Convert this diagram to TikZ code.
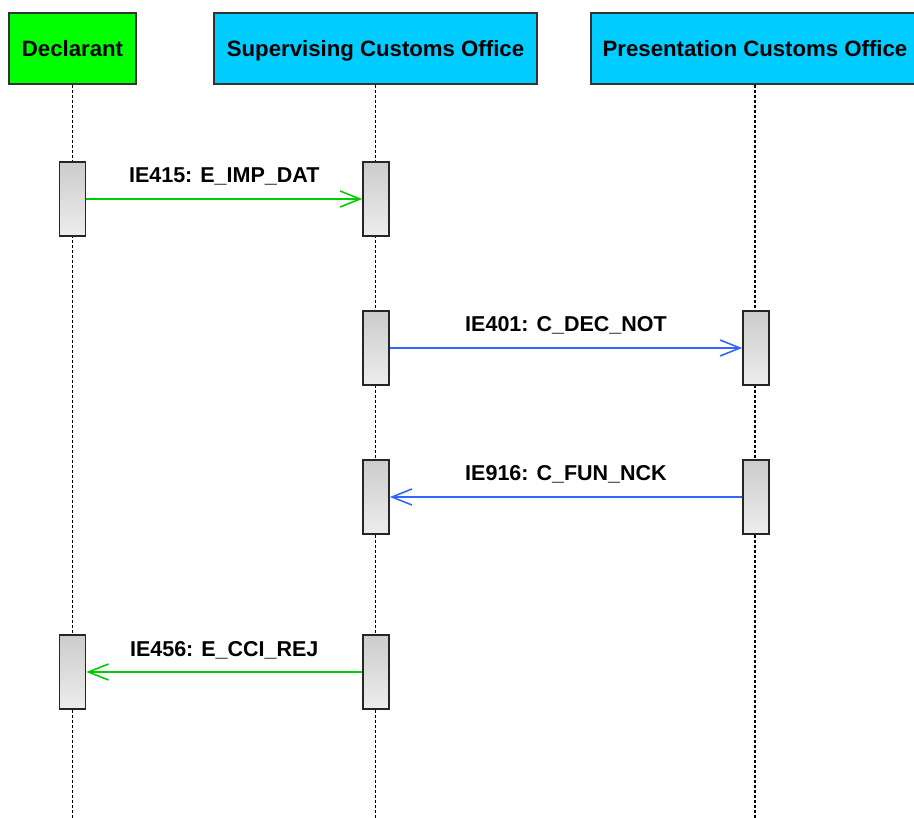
\documentclass[tikz,border=0pt]{standalone}
\usepackage{fontspec}
\setmainfont{Liberation Sans}
\usetikzlibrary{arrows.meta}
\definecolor{declgreen}{RGB}{0,255,0}
\definecolor{officecyan}{RGB}{0,204,255}
\definecolor{msggreen}{RGB}{0,204,0}
\definecolor{msgblue}{RGB}{51,102,255}
\begin{document}
\begin{tikzpicture}[x=1pt,y=-1pt,
    head/.style={draw=black!80,line width=1.6pt,minimum height=71pt,text depth=0pt,font=\fontsize{22.2}{26}\selectfont\bfseries},
    act/.style={draw=black!85,line width=1.6pt,top color=black!20,bottom color=black!7,minimum width=26pt,minimum height=74pt,inner sep=0pt},
    life/.style={draw,dash pattern=on 3pt off 2pt,line width=1.2pt},
    msg/.style={line width=1.6pt,-{Straight Barb[length=20pt,width=16pt]}},
    lbl/.style={anchor=base,yshift=16pt,text=black,font=\fontsize{21.5}{26}\selectfont\bfseries}]
      \useasboundingbox (0,0) rectangle (914,818);
      \def \Heads{
        decl/72.5/127/declgreen/Declarant,
        sup/375.5/323/officecyan/Supervising Customs Office,
        pres/755/328/officecyan/Presentation Customs Office}
      \def \Acts{
        a1/72.5/199,
        b1/376/199,
        b2/376/348,
        c2/756/348,
        b3/376/497,
        c3/756/497,
        a4/72.5/672,
        b4/376/672}
      \def \Msgs{
        a1/b1/msggreen/IE415: E\_IMP\_DAT,
        b2/c2/msgblue/IE401: C\_DEC\_NOT,
        c3/b3/msgblue/IE916: C\_FUN\_NCK,
        b4/a4/msggreen/IE456: E\_CCI\_REJ}
      \foreach \id / \x / \w / \c / \t in \Heads{
        \node[head,fill=\c,minimum width=\w] (\id) at (\x, 48.5) {\t};
        \coordinate (\id end) at (\x, 818);
        \path[life] (\id) -- (\id end);
      }
      \foreach \id / \x / \y in \Acts{
        \node[act] (\id) at (\x, \y) {};
      }
      \foreach \s / \e / \c / \t in \Msgs{
        \path[draw,msg,\c] (\s) -- node[lbl] {\t} (\e);
      }
    \end{tikzpicture}
\end{document}
